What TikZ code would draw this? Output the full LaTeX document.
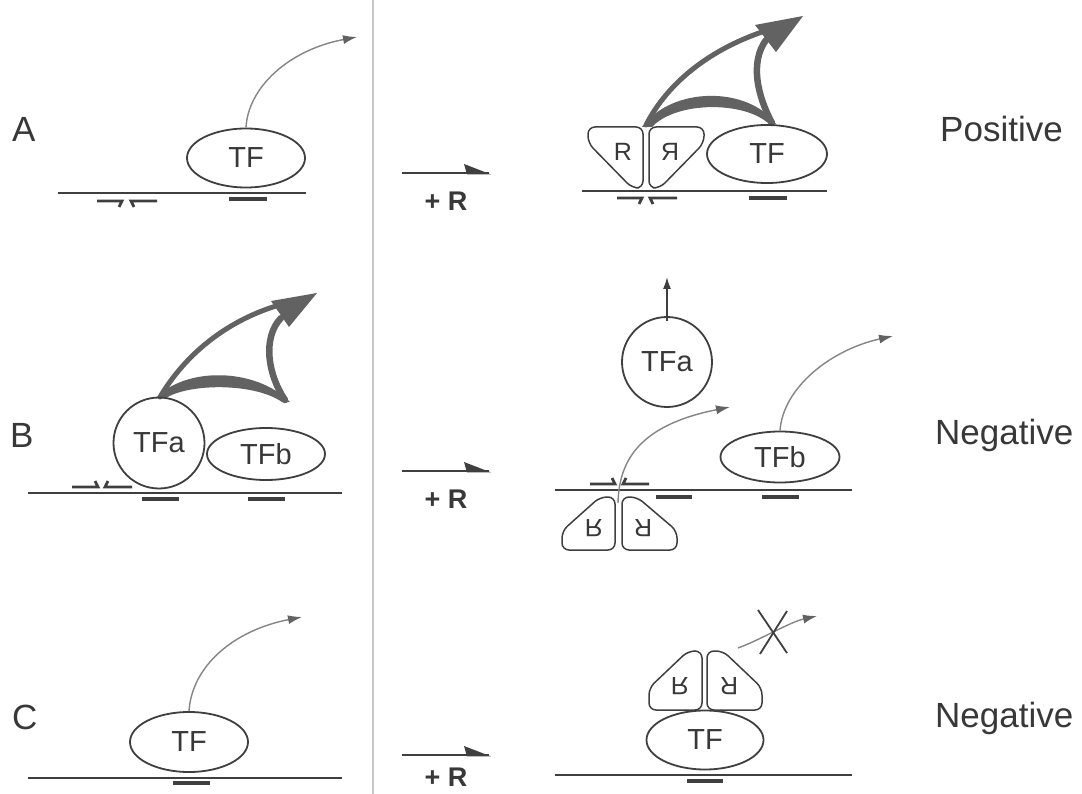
\documentclass[tikz,border=0pt]{standalone}
\usepackage{fontspec}
\setmainfont{Liberation Sans}
\usepackage{graphicx}
\usetikzlibrary{shapes.geometric,arrows.meta}
\definecolor{ink}{HTML}{3F3F3F}
\definecolor{txt}{HTML}{383838}
\definecolor{fat}{HTML}{626262}
\definecolor{thin}{HTML}{858585}
\definecolor{divider}{HTML}{C8C8C8}
\tikzset{
  dna/.style={draw=ink, line width=1.8pt},
  site/.style={draw=ink, line width=3.2pt},
  half/.style={draw=ink, line width=2.8pt, line join=miter},
  tfoval/.style={ellipse, draw=ink, line width=1.8pt, inner sep=0pt, minimum width=118pt, minimum height=59pt, font=\fontsize{29}{29}\selectfont, text=txt},
  tfcirc/.style={circle, draw=ink, line width=1.8pt, inner sep=0pt, minimum size=91pt, font=\fontsize{29}{29}\selectfont, text=txt},
  rbox/.style={draw=ink, line width=1.5pt, rounded corners=7pt},
  rletter/.style={font=\fontsize{25}{25}\selectfont, text=txt, inner sep=0pt},
  txarrow/.style={draw=thin, line width=1.4pt, -{Latex[length=14pt,width=9pt,color=fat]}},
  fatline/.style={draw=fat, line cap=round},
  rowlabel/.style={font=\fontsize{35}{35}\selectfont, text=txt, anchor=base west, inner sep=0pt},
  plusr/.style={font=\bfseries\fontsize{27}{27}\selectfont, text=txt, inner sep=0pt},
  harpline/.style={draw=ink, line width=2.8pt}
}
\begin{document}
\begin{tikzpicture}[x=1pt,y=-1pt]
\useasboundingbox[fill=white] (0,0) rectangle (1082,794);
% divider
\draw[divider, line width=1.2pt] (373,0) -- (373,794);

% ---------- row labels ----------
\node[rowlabel] (lA) at (12,142) {A};
\node[rowlabel] (lB) at (10,447) {B};
\node[rowlabel] (lC) at (12,729) {C};
\node[rowlabel] (pos) at (940,142) {Positive};
\node[rowlabel] (negB) at (935,444) {Negative};
\node[rowlabel] (negC) at (935,727) {Negative};

% ---------- middle "+R" arrows ----------
\foreach \yy/\nm/\dy in {173/hA/28, 471/hB/28, 755/hC/22}{
  \coordinate (\nm s) at (402,\yy);
  \coordinate (\nm e) at (489,\yy);
  \draw[harpline] (\nm s) -- (\nm e);
  \fill[ink] ([xshift=2pt,yshift=-1.4pt]\nm e) -- ([xshift=-25pt,yshift=9pt]\nm e) -- ([xshift=-22pt,yshift=-1.4pt]\nm e) -- cycle;
  \node[plusr] at ([xshift=44pt,yshift=-\dy pt]\nm s) {+ R};
}

% =============== ROW A, left ===============
\draw[dna] (58,193) -- (306,193);
\draw[half] (97,201) -- (122,201) -- (119,207);
\draw[half] (134,207) -- (131,201) -- (157,201);
\draw[site] (229,199) -- (267,199);
\node[tfoval] (tfA1) at (246,158) {TF};
\coordinate (tipA1) at (357,37);
\draw[txarrow] (tfA1.north) .. controls (248,88) and (288,50) .. (tipA1);

% =============== ROW A, right ===============
\draw[dna] (582,191) -- (827,191);
\draw[half] (617,198) -- (642,198) -- (639,204);
\draw[half] (653,204) -- (650,198) -- (677,198);
\draw[site] (749,198) -- (787,198);
% big arrow
\coordinate (ajn) at (646,125);
\fill[fat] (803,16) -- (755,25) -- (776,52) -- cycle;
\draw[fatline, line width=5pt] (ajn) .. controls (668,82) and (710,50) .. (762,32);
\fill[fat] (642,127) .. controls (672,86) and (748,86) .. (776,124) -- (769,124) .. controls (745,101) and (676,101) .. (652,127) -- cycle;
\draw[fatline, line width=6.5pt] (772,123) .. controls (757,95) and (750,62) .. (766,40);
% R dimer
\draw[rbox, fill=white] (588,127) -- (643,127) -- (643,188) -- (632,188) -- (588,143) -- cycle;
\draw[rbox, fill=white] (704,127) -- (649,127) -- (649,188) -- (660,188) -- (704,143) -- cycle;
\node[rletter] (rA1) at (623,152) {R};
\node[rletter] (rA2) at (670,152) {\reflectbox{R}};
\node[tfoval, minimum width=120pt, minimum height=58pt] (tfA2) at (767,154) {TF};

% =============== ROW B, left ===============
\draw[dna] (28,493) -- (342,493);
\draw[half] (72,487) -- (98,487) -- (95,481);
\draw[half] (108,481) -- (105,487) -- (132,487);
\draw[site] (142,499) -- (179,499);
\draw[site] (248,499) -- (285,499);
% big arrow
\fill[fat] (317,293) -- (271,301) -- (289,327) -- cycle;
\draw[fatline, line width=5pt] (160,397) .. controls (185,355) and (225,322) .. (276,306);
\fill[fat] (156,398) .. controls (185,367) and (255,367) .. (290,402) -- (282,402) .. controls (255,383) and (190,383) .. (166,398) -- cycle;
\draw[fatline, line width=6.5pt] (285,400) .. controls (268,375) and (262,338) .. (281,318);
\node[tfcirc] (tfaB1) at (159,443) {TFa};
\node[tfoval, minimum height=52pt] (tfbB1) at (266,454) {TFb};

% =============== ROW B, right ===============
\draw[dna] (555,490) -- (852,490);
\draw[half] (590,484) -- (615,484) -- (612,478);
\draw[half] (626,478) -- (623,484) -- (649,484);
\draw[site] (656,497) -- (692,497);
\draw[site] (762,497) -- (799,497);
\node[tfcirc, minimum size=90pt] (tfaB2) at (667,362) {TFa};
\coordinate (upB) at (667,277);
\draw[ink, line width=1.5pt, -{Latex[length=12pt,width=8pt]}] ([yshift=-5pt]tfaB2.north) -- (upB);
\node[tfoval, minimum width=119pt, minimum height=51pt] (tfbB2) at (780,457) {TFb};
\coordinate (tipB2) at (893,336);
\draw[txarrow] (tfbB2.north) .. controls (783,388) and (830,350) .. (tipB2);
% R dimer below DNA
\draw[rbox, fill=white] (615,497) -- (615,550) -- (562,550) -- (562,531) -- (600,497) -- cycle;
\draw[rbox, fill=white] (622,497) -- (622,550) -- (677,550) -- (677,531) -- (637,497) -- cycle;
\node[rletter] (rB1) at (594,528) {\scalebox{1}[-1]{R}};
\node[rletter] (rB2) at (643,528) {\rotatebox{180}{R}};
\coordinate (startB) at (618,503);
\coordinate (tipB1) at (730,407);
\draw[txarrow] (startB) .. controls (619,460) and (640,425) .. (tipB1);

% =============== ROW C, left ===============
\draw[dna] (28,778) -- (342,778);
\draw[site] (173,783) -- (210,783);
\node[tfoval, minimum height=60pt] (tfC1) at (189,742) {TF};
\coordinate (tipC1) at (302,617);
\draw[txarrow] (tfC1.north) .. controls (192,665) and (235,630) .. (tipC1);

% =============== ROW C, right ===============
\draw[dna] (555,775) -- (852,775);
\draw[site] (687,781) -- (723,781);
\node[tfoval, minimum width=117pt] (tfC2) at (705,740) {TF};
\draw[rbox, fill=white] (702,651) -- (702,710) -- (649,710) -- (649,688) -- (688,651) -- cycle;
\draw[rbox, fill=white] (707,651) -- (707,710) -- (762,710) -- (762,688) -- (723,651) -- cycle;
\node[rletter] (rC1) at (680,686) {\scalebox{1}[-1]{R}};
\node[rletter] (rC2) at (729,686) {\rotatebox{180}{R}};
\coordinate (startC) at (738,648);
\coordinate (tipC2) at (817,616);
\draw[txarrow] (startC) .. controls (760,640) and (790,622) .. (tipC2);
\coordinate (x1) at (758,610);
\coordinate (x2) at (787,653);
\coordinate (x3) at (787,611);
\coordinate (x4) at (760,654);
\draw[ink, line width=1.8pt] (x1) -- (x2);
\draw[ink, line width=1.8pt] (x3) -- (x4);
\end{tikzpicture}
\end{document}
